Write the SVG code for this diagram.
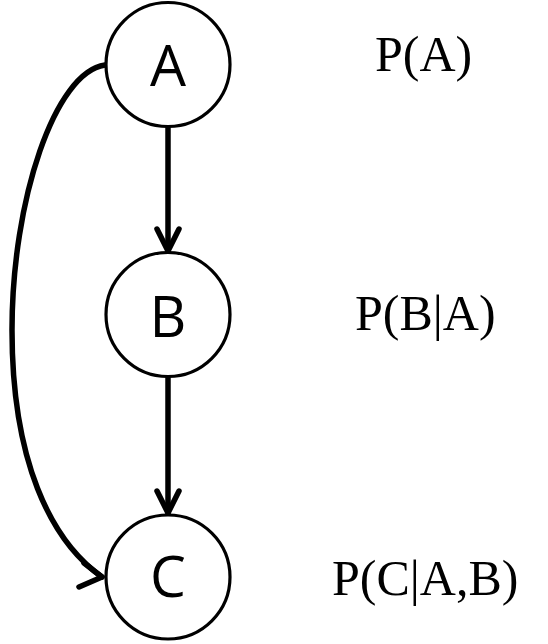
<svg xmlns="http://www.w3.org/2000/svg" width="548" height="644" viewBox="0 0 548 644">
<style>
.node circle{fill:#fff;stroke:#000;stroke-width:3.2}
.node text{font-family:"Open Sans","Liberation Sans",sans-serif;font-size:57px;fill:#000;text-anchor:middle}
.edge{fill:none;stroke:#000;stroke-width:5.5;stroke-linecap:round;stroke-linejoin:round}
.prob{font-family:"Liberation Serif","Times New Roman",serif;font-size:50px;fill:#000}
</style>
<rect width="548" height="644" fill="#fff"/>
<g id="connectors">
<path class="edge" d="M168,127 L168,251"/>
<path class="edge" d="M157,229 L168,251 L179,229"/>
<path class="edge" d="M168,377 L168,513"/>
<path class="edge" d="M157,491 L168,513 L179,491"/>
<path class="edge" d="M105,65 C55,72 12,200 12,330 C12,460 50,540 102,577"/>
<path class="edge" d="M84,563 L102,577 L79,587"/>
</g>
<g id="node-A" class="node"><circle cx="168" cy="64.5" r="62"/><text x="168" y="86">A</text></g>
<g id="node-B" class="node"><circle cx="168" cy="314.5" r="62"/><text x="168" y="337">B</text></g>
<g id="node-C" class="node"><circle cx="168" cy="577" r="62"/><text x="168" y="597">C</text></g>
<g id="labels">
<text class="prob" x="375" y="71">P(A)</text>
<text class="prob" x="355" y="330">P(B|A)</text>
<text class="prob" x="332" y="595">P(C|A,B)</text>
</g>
</svg>
